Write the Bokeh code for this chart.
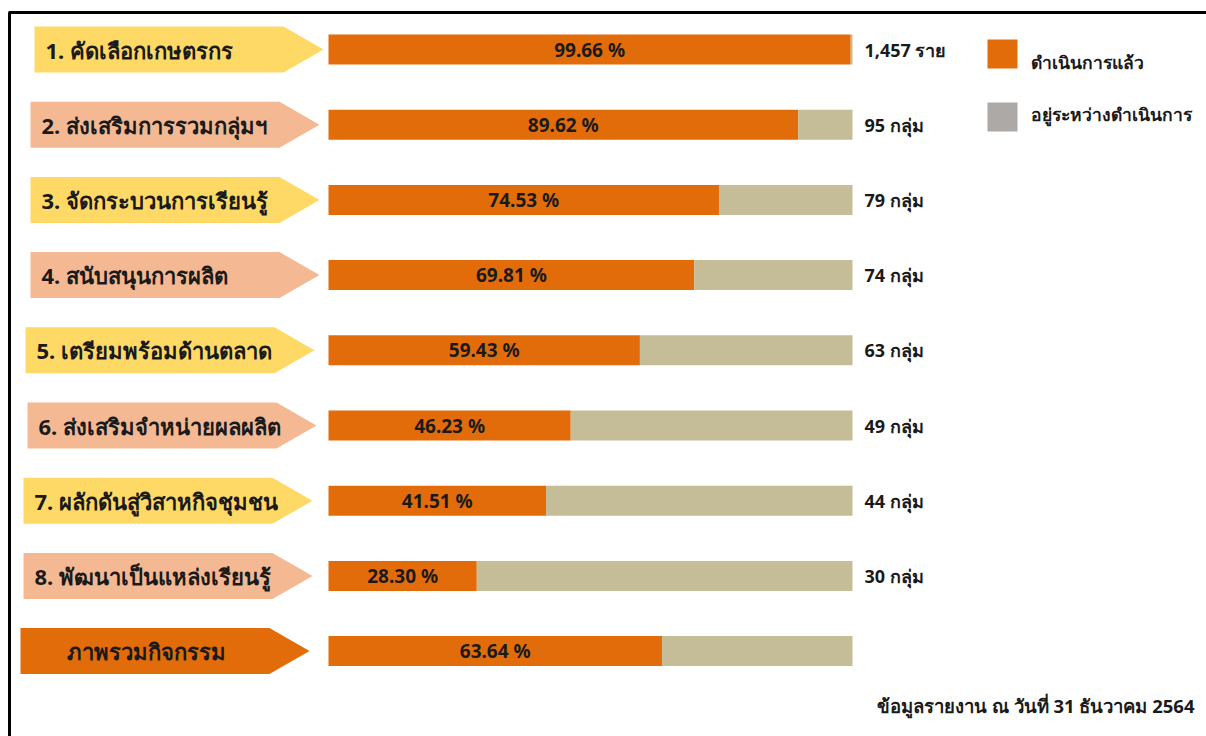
from bokeh.plotting import figure
from bokeh.models import Range1d, ColumnDataSource
from bokeh.embed import file_html
from bokeh.resources import INLINE
from bokeh.core.properties import value

# ---------------- data ----------------
activities = [
    "1. คัดเลือกเกษตรกร",
    "2. ส่งเสริมการรวมกลุ่มฯ",
    "3. จัดกระบวนการเรียนรู้",
    "4. สนับสนุนการผลิต",
    "5. เตรียมพร้อมด้านตลาด",
    "6. ส่งเสริมจำหน่ายผลผลิต",
    "7. ผลักดันสู่วิสาหกิจชุมชน",
    "8. พัฒนาเป็นแหล่งเรียนรู้",
    "ภาพรวมกิจกรรม",
]
done_pct = [99.66, 89.62, 74.53, 69.81, 59.43, 46.23, 41.51, 28.30, 63.64]
done_labels = ["99.66 %", "89.62 %", "74.53 %", "69.81 %", "59.43 %",
               "46.23 %", "41.51 %", "28.30 %", "63.64 %"]
counts = ["1,457 ราย", "95 กลุ่ม", "79 กลุ่ม", "74 กลุ่ม", "63 กลุ่ม",
          "49 กลุ่ม", "44 กลุ่ม", "30 กลุ่ม", ""]
legend_labels = ["ดำเนินการแล้ว", "อยู่ระหว่างดำเนินการ"]
footnote = "ข้อมูลรายงาน ณ วันที่ 31 ธันวาคม 2564"

# ---------------- styles / layout ----------------
ORANGE = "#E36C0A"
TAN = "#C4BD97"
GRAY = "#ADA9A7"
YELLOW = "#FFD966"
SALMON = "#F4B993"
FONT = "Noto Sans"
TXT = "#1a1a1a"

W, H = 1206, 736
PAGE = 0
X0 = 328.0          # page px of 0 %
PXP = 5.24          # px per percent
Y0 = 49.0           # page px of first row center
ROW = 75.2          # px per row


def dx(px):
    return (px - X0) / PXP


def dy(py):
    return (py - Y0) / ROW


rows = list(range(len(activities)))
remain = [100 - v for v in done_pct]

p = figure(width=W, height=H, output_backend="svg", toolbar_location=None,
           x_range=Range1d(dx(PAGE), dx(PAGE + W)),
           y_range=Range1d(dy(PAGE + H), dy(PAGE)),
           min_border=0, outline_line_color=None)
p.xaxis.visible = False
p.yaxis.visible = False
p.xgrid.visible = False
p.ygrid.visible = False
p.background_fill_color = "white"
p.border_fill_color = "white"

# frame lines (top and left)
p.segment(x0=[dx(8), dx(9)], y0=[dy(12), dy(12)],
          x1=[dx(PAGE + W), dx(9)], y1=[dy(12), dy(PAGE + H)],
          line_color="black", line_width=3)

# arrow-shaped category labels
arrow_left = [34, 30, 30, 30, 25, 27, 23, 23, 20]
arrow_fill = [YELLOW, SALMON, YELLOW, SALMON, YELLOW, SALMON, YELLOW, SALMON, ORANGE]
ARROW_LEN = 289
ARROW_TIP = 40
ARROW_H = 46
xs, ys = [], []
for i, l in enumerate(arrow_left):
    tip = l + ARROW_LEN
    re = tip - ARROW_TIP
    cy = Y0 + ROW * i
    top, bot = cy - ARROW_H / 2, cy + ARROW_H / 2
    xs.append([dx(l), dx(re), dx(tip), dx(re), dx(l)])
    ys.append([dy(top), dy(top), dy(cy), dy(bot), dy(bot)])
p.patches(xs, ys, fill_color=arrow_fill, line_color=None)

# label texts in arrows
lab_x = [dx(l + 11) for l in arrow_left[:-1]]
p.text(x=lab_x, y=rows[:-1], text=activities[:-1], text_font=value(FONT),
       text_font_size="22px", text_font_style="bold", text_color=TXT,
       text_baseline="middle", text_align="left")
p.text(x=[dx(arrow_left[-1] + 126)], y=[rows[-1]], text=[activities[-1]],
       text_font=value(FONT), text_font_size="22px", text_font_style="bold",
       text_color=TXT, text_baseline="middle", text_align="center")

# stacked bars
BAR_H = 30 / ROW
src = ColumnDataSource(dict(y=rows, done=done_pct, rem=remain,
                            lab=done_labels, lab_x=[v / 2 for v in done_pct],
                            cnt=counts))
p.hbar(y="y", left=0, right="done", height=BAR_H, fill_color=ORANGE,
       line_color=None, source=src)
p.hbar(y="y", left="done", right=100, height=BAR_H, fill_color=TAN,
       line_color=None, source=src)

p.text(x="lab_x", y="y", text="lab", source=src, text_font=value(FONT),
       text_font_size="19px", text_font_style="bold", text_color=TXT,
       text_baseline="middle", text_align="center")

p.text(x=dx(864), y="y", text="cnt", source=src, text_font=value(FONT),
       text_font_size="18px", text_font_style="bold", text_color=TXT,
       text_baseline="middle", text_align="left")

# legend
p.rect(x=[dx(1002), dx(1002)], y=[dy(53.5), dy(116.5)],
       width=30 / PXP, height=29 / ROW, fill_color=[ORANGE, GRAY], line_color=None)
p.text(x=[dx(1030), dx(1030)], y=[dy(61), dy(113)], text=legend_labels,
       text_font=value(FONT), text_font_size="17.5px", text_font_style="bold",
       text_color=TXT, text_baseline="middle", text_align="left")

# footnote
p.text(x=[dx(1194)], y=[dy(705)], text=[footnote], text_font=value(FONT),
       text_font_size="18.5px", text_font_style="bold", text_color=TXT,
       text_baseline="middle", text_align="right")

open("out.html", "w").write(file_html(p, INLINE))
